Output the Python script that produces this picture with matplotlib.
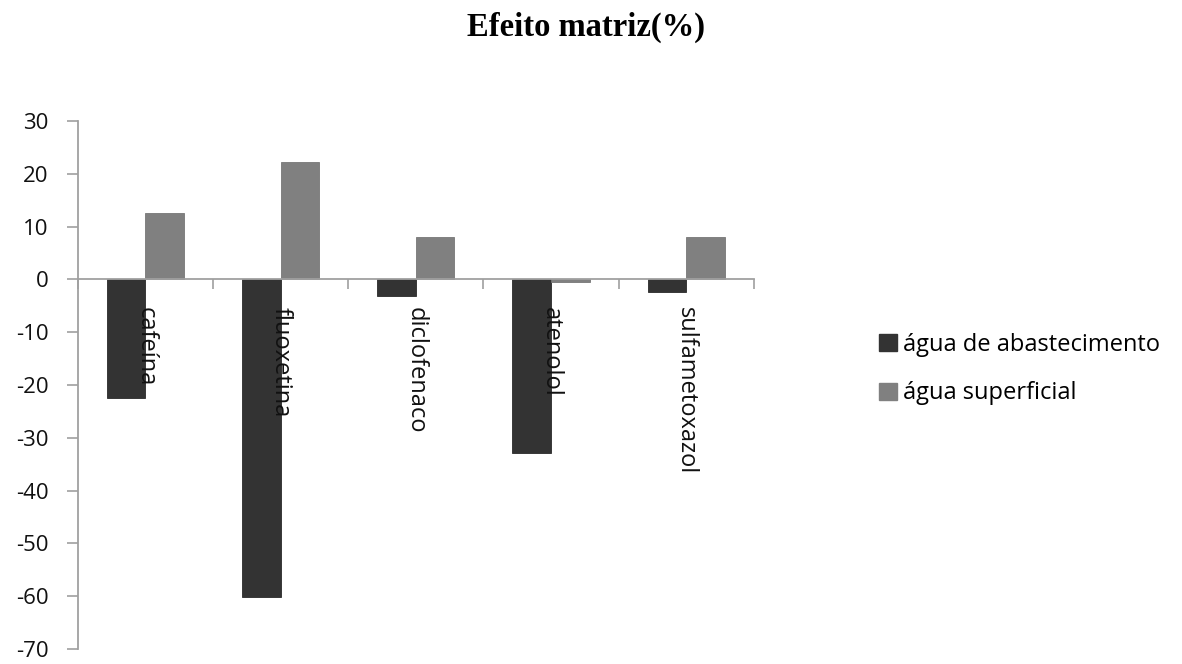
import numpy as np
import matplotlib
matplotlib.use("Agg")
import matplotlib.pyplot as plt
from matplotlib.patches import Patch

# Data
compounds = ["cafeína", "fluoxetina", "diclofenaco", "atenolol", "sulfametoxazol"]
series_names = ["água de abastecimento", "água superficial"]
abastecimento = [-22.4, -60.2, -3.1, -32.8, -2.3]
superficial = [12.5, 22.2, 8.1, -0.5, 8.1]
y_ticks = [-70, -60, -50, -40, -30, -20, -10, 0, 10, 20, 30]

dark = "#333333"
light = "#808080"
axis_gray = "#a0a0a0"
font = "Open Sans"
fs = 17

fig = plt.figure(figsize=(11.82, 6.64), dpi=100)
ax = fig.add_axes([77.7 / 1182, 1 - 649 / 664, (754 - 77.7) / 1182, (649 - 121) / 664])

x = np.arange(len(compounds))
width = 1 / 3.5  # gap width of 150 %
ax.bar(x - width / 2, abastecimento, width, color=dark, edgecolor="#2a2a2a", linewidth=0.6)
ax.bar(x + width / 2, superficial, width, color=light, edgecolor="#777777", linewidth=0.6)

ax.set_xlim(-0.5, len(compounds) - 0.5)
ax.set_ylim(-70, 30)
ax.set_yticks(y_ticks)
ax.set_yticklabels([str(v) for v in y_ticks], fontsize=16, family=font, color="#111111")

# Category axis drawn along zero
ax.spines["bottom"].set_position(("data", 0))
ax.spines["bottom"].set_color(axis_gray)
ax.spines["bottom"].set_linewidth(1.3)
ax.spines["left"].set_color(axis_gray)
ax.spines["left"].set_linewidth(1.3)
ax.spines["top"].set_visible(False)
ax.spines["right"].set_visible(False)

ax.set_xticks(x)
ax.set_xticklabels(compounds, rotation=270, fontsize=fs, family=font, color="#111111")
ax.tick_params(axis="x", which="major", length=0, pad=20)
ax.set_xticks(np.arange(len(compounds) + 1) - 0.5, minor=True)
ax.tick_params(axis="x", which="minor", length=7.5, width=1.2, color=axis_gray, direction="out")
ax.tick_params(axis="y", length=8, width=1.2, color=axis_gray, direction="out", pad=13)

fig.text(0.496, 1 - 27 / 664, "Efeito matriz(%)", ha="center", va="center",
         fontsize=23.5, fontweight="bold", family="Liberation Serif")

handles = [Patch(facecolor=dark, edgecolor=dark), Patch(facecolor=light, edgecolor=light)]
fig.legend(handles, series_names, loc="center left", bbox_to_anchor=(858 / 1182, 1 - 369 / 664),
           frameon=False, handlelength=0.75, handleheight=0.75, handletextpad=0.25,
           labelspacing=1.05, prop={"family": font, "size": fs})

fig.savefig("out.png", dpi=100)
